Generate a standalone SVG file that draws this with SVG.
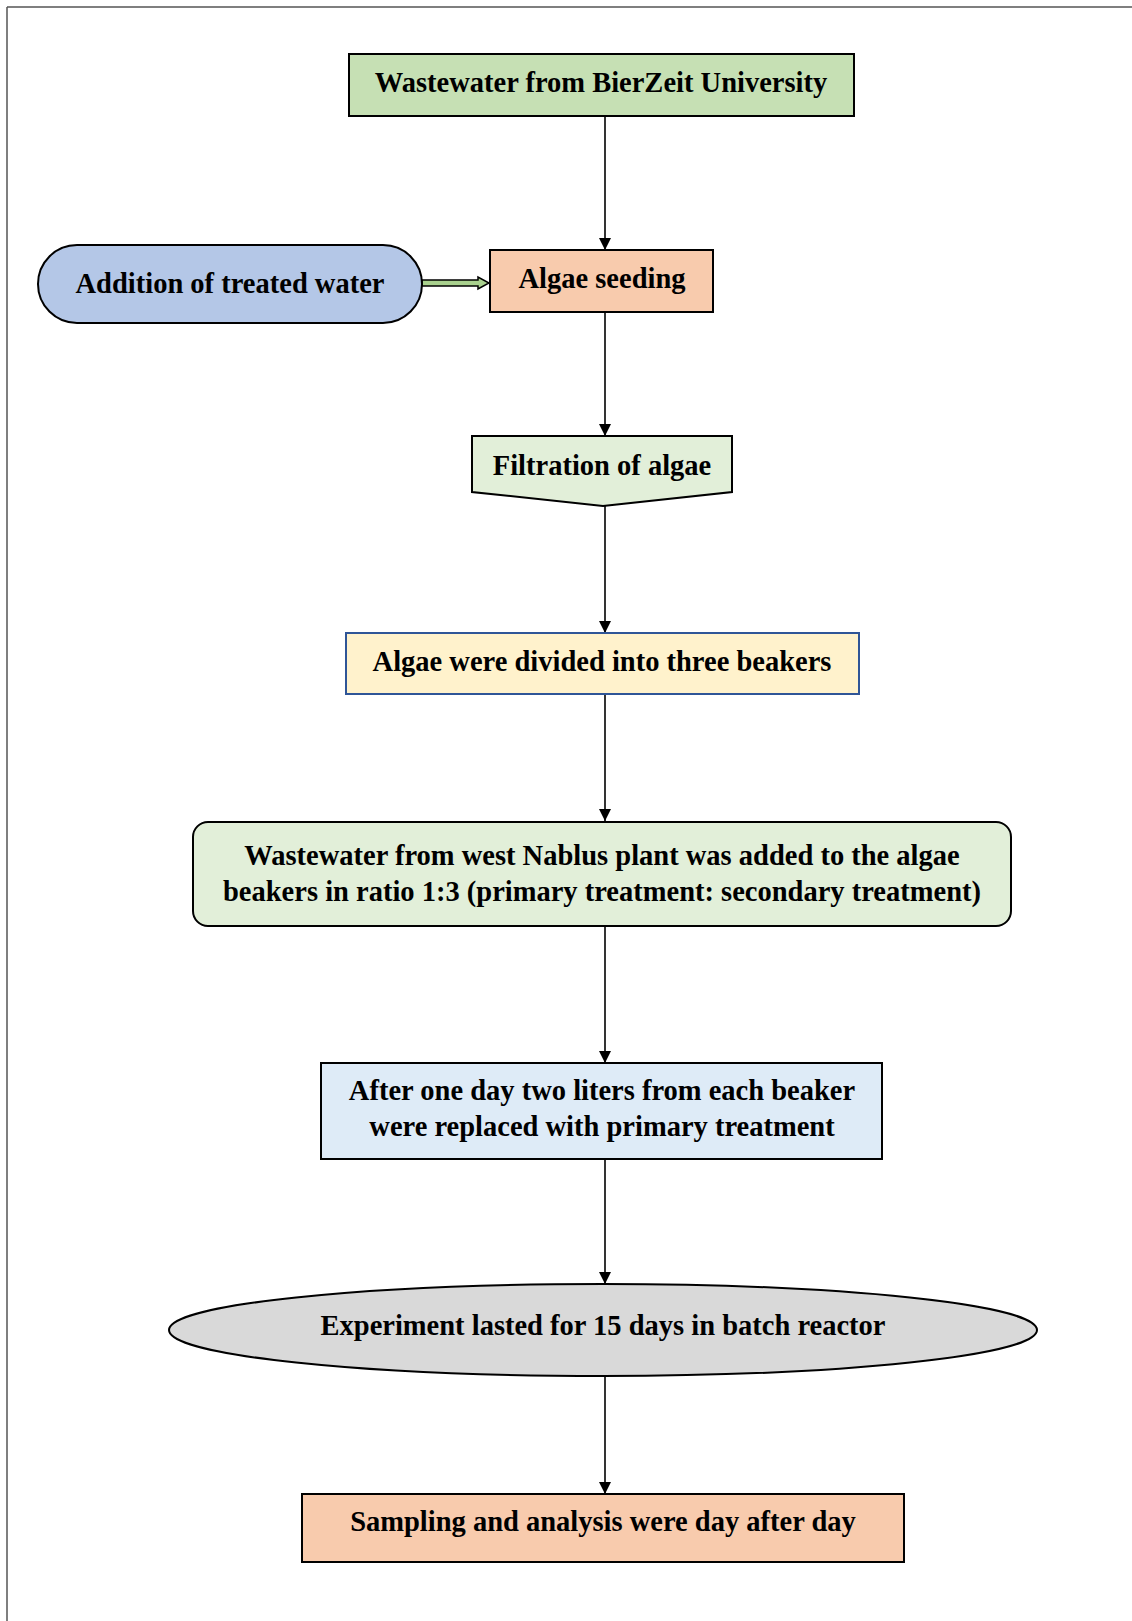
<svg xmlns="http://www.w3.org/2000/svg" width="1132" height="1621" viewBox="0 0 1132 1621">
<defs>
<marker id="ah" viewBox="0 0 10 10" refX="10" refY="5" markerWidth="12" markerHeight="12" markerUnits="userSpaceOnUse" orient="auto">
<path d="M0,0 L10,5 L0,10 Z" fill="#000"/>
</marker>
</defs>
<style>
.t{font-family:"Liberation Serif","Times New Roman",serif;font-weight:bold;font-size:28.5px;fill:#000;text-anchor:middle}
.n{stroke:#000;stroke-width:2}
.c{stroke:#000;stroke-width:1.6;fill:none;marker-end:url(#ah)}
</style>
<rect width="1132" height="1621" fill="#fff"/>
<g id="frame" stroke="#555" stroke-width="1.5">
<line x1="7" y1="7" x2="1132" y2="7"/>
<line x1="7" y1="7" x2="7" y2="1621"/>
</g>
<g id="connectors">
<line class="c" x1="605" y1="116" x2="605" y2="250"/>
<line class="c" x1="605" y1="312" x2="605" y2="436"/>
<line class="c" x1="605" y1="506" x2="605" y2="633"/>
<line class="c" x1="605" y1="694" x2="605" y2="821"/>
<line class="c" x1="605" y1="926" x2="605" y2="1063"/>
<line class="c" x1="605" y1="1159" x2="605" y2="1284"/>
<line class="c" x1="605" y1="1377" x2="605" y2="1494"/>
<path d="M422,280 L478,280 L478,277 L489,283 L478,289 L478,286 L422,286 Z" fill="#a9d18e" stroke="#000" stroke-width="1.5"/>
</g>
<g id="n1">
<rect class="n" x="349" y="54" width="505" height="62" fill="#c6e0b4"/>
<text class="t" x="601" y="92">Wastewater from BierZeit University</text>
</g>
<g id="n2">
<rect class="n" x="38" y="245" width="384" height="78" rx="39" fill="#b4c7e7"/>
<text class="t" x="230" y="293">Addition of treated water</text>
</g>
<g id="n3">
<rect class="n" x="490" y="250" width="223" height="62" fill="#f8cbad"/>
<text class="t" x="602" y="288">Algae seeding</text>
</g>
<g id="n4">
<path class="n" d="M472,436 L732,436 L732,492 L603,506 L472,492 Z" fill="#e2efd9"/>
<text class="t" x="602" y="475">Filtration of algae</text>
</g>
<g id="n5">
<rect x="346" y="633" width="513" height="61" fill="#fff2cc" stroke="#2f5597" stroke-width="2"/>
<text class="t" x="602" y="671">Algae were divided into three beakers</text>
</g>
<g id="n6">
<rect class="n" x="193" y="822" width="818" height="104" rx="15" fill="#e2efd9"/>
<text class="t" x="602" y="865">Wastewater from west Nablus plant was added to the algae</text>
<text class="t" x="602" y="901">beakers in ratio 1:3 (primary treatment: secondary treatment)</text>
</g>
<g id="n7">
<rect class="n" x="321" y="1063" width="561" height="96" fill="#deebf7"/>
<text class="t" x="602" y="1100">After one day two liters from each beaker</text>
<text class="t" x="602" y="1136">were replaced with primary treatment</text>
</g>
<g id="n8">
<ellipse class="n" cx="603" cy="1330" rx="434" ry="46" fill="#d9d9d9"/>
<text class="t" x="603" y="1335">Experiment lasted for 15 days in batch reactor</text>
</g>
<g id="n9">
<rect class="n" x="302" y="1494" width="602" height="68" fill="#f8cbad"/>
<text class="t" x="603" y="1531">Sampling and analysis were day after day</text>
</g>
</svg>
